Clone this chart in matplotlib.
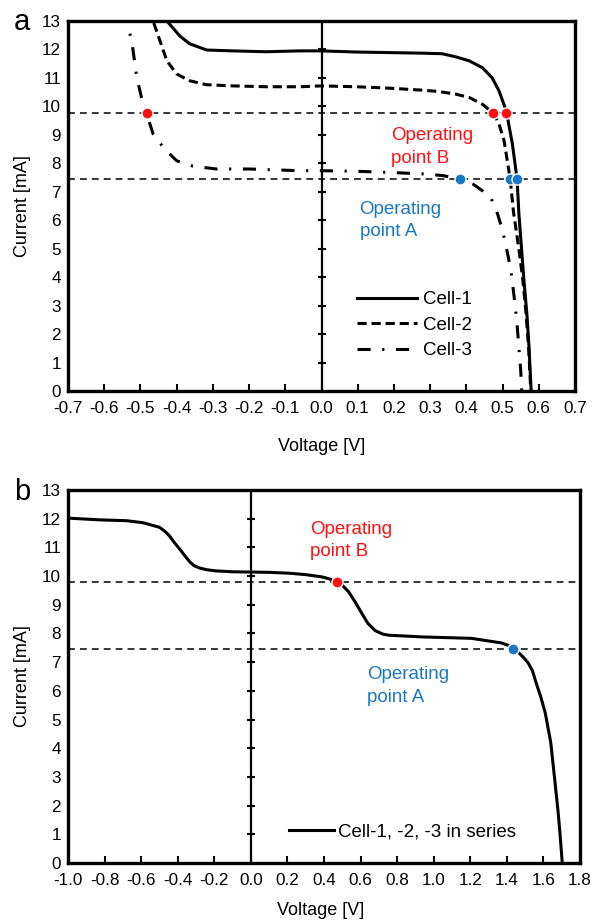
import numpy as np
import matplotlib
matplotlib.use("Agg")
import matplotlib.pyplot as plt

plt.rcParams['font.family'] = ['Liberation Sans', 'DejaVu Sans']

# I-V curves of the single cells (V, mA)
cell1_v = [-0.45, -0.427, -0.391, -0.364, -0.317, -0.245, -0.152, -0.06, 0.0, 0.096, 0.187,
           0.278, 0.333, 0.371, 0.408, 0.444, 0.471, 0.49, 0.51, 0.527, 0.54, 0.545, 0.552,
           0.559, 0.567, 0.573, 0.579]
cell1_i = [13.6, 13.0, 12.47, 12.2, 11.98, 11.95, 11.92, 11.95, 11.95, 11.91, 11.89,
           11.87, 11.85, 11.74, 11.6, 11.36, 11.01, 10.55, 9.85, 8.69, 7.45, 6.24, 5.06,
           3.89, 2.72, 1.55, 0.0]

cell2_v = [-0.475, -0.465, -0.446, -0.427, -0.4, -0.364, -0.317, -0.245, -0.152, -0.06, 0.0,
           0.096, 0.187, 0.279, 0.325, 0.371, 0.408, 0.444, 0.475, 0.49, 0.504, 0.513, 0.521,
           0.53, 0.545, 0.556, 0.565, 0.572, 0.578]
cell2_i = [13.4, 13.0, 12.3, 11.6, 11.14, 10.9, 10.76, 10.72, 10.69, 10.69, 10.72,
           10.69, 10.64, 10.57, 10.52, 10.43, 10.31, 10.08, 9.75, 9.39, 8.8, 8.09, 7.45,
           6.3, 5.0, 3.9, 2.7, 1.5, 0.0]

cell3_v = [-0.545, -0.538, -0.524, -0.51, -0.497, -0.483, -0.465, -0.437, -0.4, -0.355, -0.29,
           -0.198, -0.06, 0.0, 0.096, 0.187, 0.279, 0.334, 0.383, 0.417, 0.444, 0.467, 0.486,
           0.5, 0.514, 0.523, 0.532, 0.539, 0.545, 0.55, 0.553]
cell3_i = [13.4, 13.0, 12.3, 11.01, 10.31, 9.75, 9.03, 8.56, 8.09, 7.9, 7.8,
           7.8, 7.74, 7.74, 7.72, 7.68, 7.63, 7.57, 7.45, 7.28, 7.04, 6.81, 6.23,
           5.64, 4.82, 4.24, 3.3, 2.49, 1.55, 0.74, 0.0]

# series connection of the three cells
series_v = [-1.0, -0.83, -0.68, -0.59, -0.5, -0.47, -0.445, -0.42, -0.39, -0.36, -0.335,
            -0.31, -0.28, -0.24, -0.19, -0.1, 0.0, 0.1, 0.21, 0.3, 0.39, 0.43, 0.47, 0.5,
            0.535, 0.57, 0.607, 0.64, 0.68, 0.72, 0.753, 0.934, 1.206, 1.37, 1.41, 1.435,
            1.47, 1.5, 1.517, 1.54, 1.559, 1.585, 1.61, 1.64, 1.662, 1.68, 1.689, 1.697, 1.703]
series_i = [12.02, 11.96, 11.93, 11.86, 11.7, 11.56, 11.4, 11.18, 10.95, 10.7, 10.5,
            10.36, 10.28, 10.22, 10.18, 10.15, 10.14, 10.13, 10.1, 10.05, 9.97, 9.9, 9.8, 9.68,
            9.45, 9.1, 8.7, 8.35, 8.1, 7.98, 7.94, 7.88, 7.83, 7.67, 7.58, 7.48,
            7.3, 7.1, 6.97, 6.7, 6.3, 5.8, 5.23, 4.2, 2.89, 1.8, 1.15, 0.5, 0.0]

# operating points
i_B = 9.78
i_A = 7.46
opB_single_v = [-0.483, 0.474, 0.51]
opA_single_v = [0.383, 0.521, 0.54]
opB_series_v = 0.47
opA_series_v = 1.435

red = '#FF1010'
blue = '#1A78C2'
lw = 2.2

fig = plt.figure(figsize=(5.92, 9.21), dpi=100)
ax1 = fig.add_axes([68/592, (921-391)/921, 507/592, 370/921])
ax2 = fig.add_axes([68/592, (921-863)/921, 512/592, 373/921])


def style_axes(ax, xticks):
    ax.set_ylim(0, 13)
    ax.set_xlim(xticks[0], xticks[-1])
    ax.set_yticks(range(0, 14))
    ax.set_xticks(xticks)
    ax.set_xticklabels(['%.1f' % (t + 0.0) for t in xticks])
    for s in ax.spines.values():
        s.set_linewidth(2.4)
    ax.tick_params(axis='x', direction='in', length=5, width=1.5, pad=7, labelsize=12.3)
    ax.tick_params(axis='y', length=0, pad=5, labelsize=12.3)
    ax.axvline(0, color='k', lw=1.6, zorder=2)
    yt = np.arange(1, 13)
    ax.plot(np.zeros(len(yt)), yt, ls='none', marker='_', ms=6, mew=1.5, color='k', zorder=2)
    for y in (i_B, i_A):
        ax.axhline(y, color='k', lw=1.1, ls=(0, (4.5, 3.3)), zorder=1)
    ax.set_ylabel('Current [mA]', fontsize=13, labelpad=8)
    ax.set_xlabel('Voltage [V]', fontsize=13, labelpad=16)


# panel a
style_axes(ax1, np.round(np.arange(-0.7, 0.71, 0.1), 1))
ax1.plot(cell1_v, cell1_i, color='k', lw=lw, label='Cell-1', zorder=3)
ax1.plot(cell2_v, cell2_i, color='k', lw=lw, ls=(0, (3, 1.6)), label='Cell-2', zorder=3)
ax1.plot(cell3_v, cell3_i, color='k', lw=lw, ls=(0, (4.3, 3.8, 0.7, 3.8)), label='Cell-3', zorder=3)
ax1.plot(opB_single_v, [i_B]*3, ls='none', marker='o', ms=8, mfc=red, mec='white', mew=1, zorder=4)
ax1.plot(opA_single_v, [i_A]*3, ls='none', marker='o', ms=8, mfc=blue, mec='white', mew=1, zorder=4)
ax1.text(0.193, 8.57, 'Operating\npoint B', color=red, fontsize=13.5, ha='left', va='center',
         linespacing=1.4)
ax1.text(0.105, 5.99, 'Operating\npoint A', color=blue, fontsize=13.5, ha='left', va='center',
         linespacing=1.4)
ax1.legend(loc='center left', bbox_to_anchor=(0.571, 0.178), frameon=False, fontsize=13.5,
           handlelength=3.15, handletextpad=0.35, labelspacing=0.45, borderpad=0, borderaxespad=0)

# panel b
style_axes(ax2, np.round(np.arange(-1.0, 1.81, 0.2), 1))
ax2.plot(series_v, series_i, color='k', lw=lw, label='Cell-1, -2, -3 in series', zorder=3)
ax2.plot([opB_series_v], [i_B], ls='none', marker='o', ms=8, mfc=red, mec='white', mew=1, zorder=4)
ax2.plot([opA_series_v], [i_A], ls='none', marker='o', ms=8, mfc=blue, mec='white', mew=1, zorder=4)
ax2.text(0.325, 11.25, 'Operating\npoint B', color=red, fontsize=13.5, ha='left', va='center',
         linespacing=1.4)
ax2.text(0.634, 6.17, 'Operating\npoint A', color=blue, fontsize=13.5, ha='left', va='center',
         linespacing=1.4)
ax2.legend(loc='center left', bbox_to_anchor=(0.432, 0.083), frameon=False, fontsize=13.5,
           handlelength=2.4, handletextpad=0.2, borderpad=0, borderaxespad=0)
ax2.xaxis.labelpad = 10
ax2.xaxis.label.set_position((0.493, 0))

fig.text(22/592, 1 - 22/921, 'a', fontsize=21, ha='center', va='center')
fig.text(22/592, 1 - 492/921, 'b', fontsize=21, ha='center', va='center')

fig.savefig('out.png', dpi=100)
